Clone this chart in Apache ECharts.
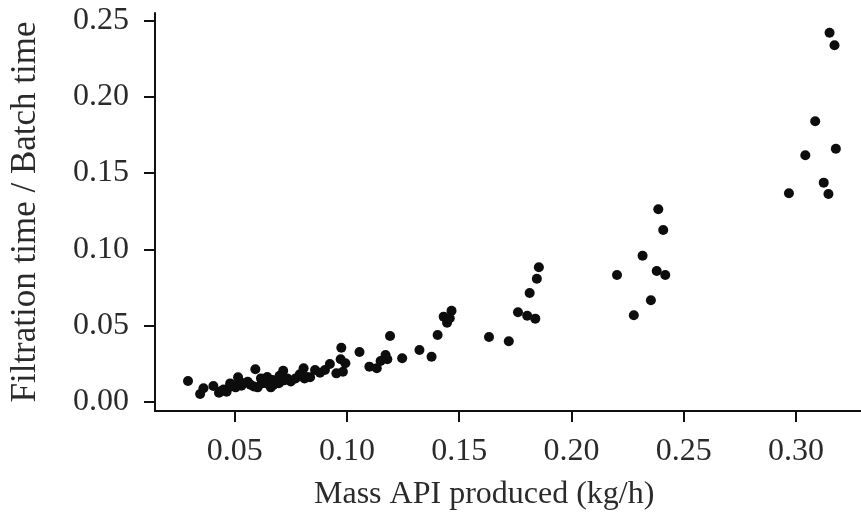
<!DOCTYPE html>
<html>
<head>
<meta charset="utf-8">
<script src="https://cdn.jsdelivr.net/npm/echarts@6/dist/echarts.min.js"></script>
<style>
  html, body { margin: 0; padding: 0; background: #fff; }
  #chart { width: 861px; height: 521px; }
</style>
</head>
<body>
<div id="chart"></div>
<script>
// Mass API produced (kg/h)
const massApi = [
  0.0292, 0.0346, 0.0361, 0.0405, 0.0430, 0.0450, 0.0464, 0.0478, 0.0480, 0.0504,
  0.0515, 0.0530, 0.0536, 0.0558, 0.0570, 0.0592, 0.0602, 0.0617, 0.0620, 0.0639,
  0.0645, 0.0661, 0.0668, 0.0672, 0.0697, 0.0716, 0.0720, 0.0734, 0.0750, 0.0771,
  0.0790, 0.0807, 0.0811, 0.0820, 0.0836, 0.0858, 0.0880, 0.0902, 0.0924, 0.0953,
  0.0972, 0.0975, 0.0982, 0.0993, 0.1056, 0.1100, 0.1133, 0.1150, 0.1172, 0.1180,
  0.1192, 0.1246, 0.1323, 0.1377, 0.1404, 0.1431, 0.1446, 0.1458, 0.1466, 0.1633,
  0.1721, 0.1762, 0.1803, 0.1814, 0.1839, 0.1846, 0.1855, 0.2203, 0.2278, 0.2317,
  0.2354, 0.2380, 0.2387, 0.2409, 0.2418, 0.2969, 0.3042, 0.3086, 0.3124, 0.3145,
  0.3150, 0.3172, 0.3178, 0.0440, 0.0520, 0.0585, 0.0630, 0.0700
];

// Filtration time / Batch time
const timeRatio = [
  0.0136, 0.0051, 0.0088, 0.0103, 0.0059, 0.0080, 0.0066, 0.0098, 0.0120, 0.0094,
  0.0160, 0.0105, 0.0121, 0.0131, 0.0112, 0.0213, 0.0094, 0.0153, 0.0120, 0.0121,
  0.0162, 0.0094, 0.0142, 0.0110, 0.0121, 0.0203, 0.0140, 0.0153, 0.0132, 0.0153,
  0.0180, 0.0219, 0.0153, 0.0162, 0.0160, 0.0208, 0.0190, 0.0208, 0.0247, 0.0186,
  0.0278, 0.0354, 0.0197, 0.0252, 0.0326, 0.0230, 0.0219, 0.0267, 0.0306, 0.0278,
  0.0431, 0.0285, 0.0339, 0.0295, 0.0438, 0.0558, 0.0518, 0.0547, 0.0597, 0.0425,
  0.0396, 0.0587, 0.0564, 0.0713, 0.0545, 0.0807, 0.0882, 0.0831, 0.0567, 0.0958,
  0.0665, 0.0858, 0.1262, 0.1127, 0.0831, 0.1367, 0.1617, 0.1840, 0.1437, 0.1363,
  0.2421, 0.2339, 0.1660, 0.0070, 0.0130, 0.0100, 0.0140, 0.0170
];

const xTicks = [0.05, 0.10, 0.15, 0.20, 0.25, 0.30];
const yTicks = [0.00, 0.05, 0.10, 0.15, 0.20, 0.25];

const points = massApi.map((x, i) => [x, timeRatio[i]]);

const serif = 'Liberation Serif';
const textColor = '#2a2a2a';

const chart = echarts.init(document.getElementById('chart'), null, { renderer: 'canvas' });

const option = {
  animation: false,
  backgroundColor: '#fff',
  title: {
    text: 'Mass API produced (kg/h)',
    left: 314,
    top: 479,
    padding: 0,
    textStyle: { fontFamily: serif, fontSize: 32, fontWeight: 'normal', color: textColor }
  },
  grid: { left: 144, right: 0, top: 13, bottom: 110, containLabel: false },
  xAxis: {
    type: 'value',
    min: 0.0145,
    max: 0.329,
    splitLine: { show: false },
    axisLine: { onZero: false, lineStyle: { color: '#111', width: 2 } },
    axisTick: { show: true, length: 11, customValues: xTicks, lineStyle: { color: '#111', width: 2 } },
    axisLabel: {
      customValues: xTicks,
      margin: 25,
      fontFamily: serif,
      fontSize: 32,
      color: textColor,
      formatter: v => v.toFixed(2)
    }
  },
  yAxis: {
    type: 'value',
    min: -0.0061,
    max: 0.255,
    name: 'Filtration time / Batch time',
    nameLocation: 'middle',
    nameRotate: 90,
    nameGap: 112,
    nameTextStyle: { fontFamily: serif, fontSize: 35, color: textColor },
    splitLine: { show: false },
    axisLine: { show: true, onZero: false, lineStyle: { color: '#111', width: 2 } },
    axisTick: { show: true, length: 11, customValues: yTicks, lineStyle: { color: '#111', width: 2 } },
    axisLabel: {
      customValues: yTicks,
      margin: 26,
      fontFamily: serif,
      fontSize: 32,
      color: textColor,
      formatter: v => v.toFixed(2)
    }
  },
  series: [{
    type: 'scatter',
    data: points,
    symbol: 'circle',
    symbolSize: 10,
    itemStyle: { color: '#0d0d0d', opacity: 1 }
  }]
};

chart.setOption(option);
</script>
</body>
</html>
